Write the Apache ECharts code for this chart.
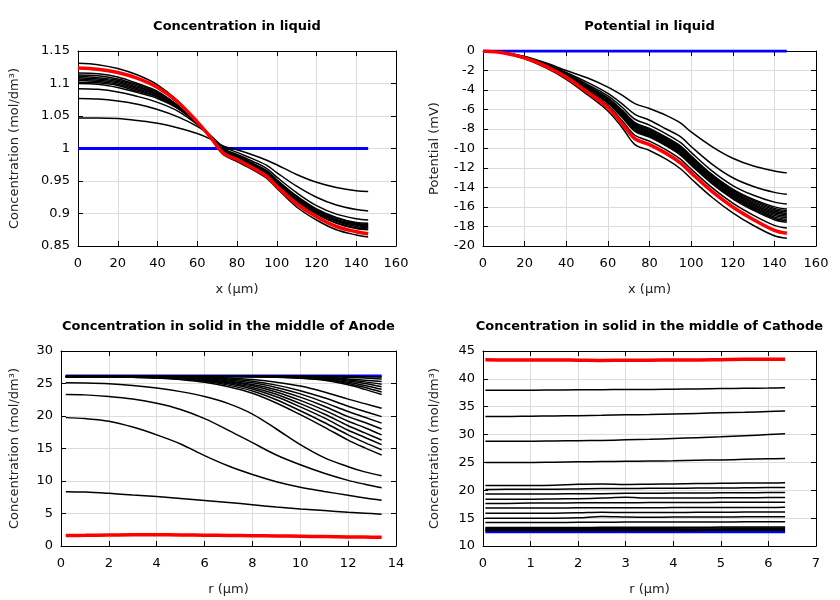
<!DOCTYPE html>
<html><head><meta charset="utf-8">
<script src="https://cdn.jsdelivr.net/npm/echarts@6/dist/echarts.min.js"></script>
<style>html,body{margin:0;padding:0;background:#fff}#c{width:840px;height:600px}</style>
</head><body><div id="c"></div>
<script>
// ---------- Concentration in liquid ----------
const xLiquid = [0,10,20,30,40,50,60,67,73,80,88,95,100,110,120,130,140,146];
const liqConcInitial = [1,1,1,1,1,1,1,1,1,1,1,1,1,1,1,1,1,1];
const liqConcBlack = [
  [1.047,1.047,1.046,1.043,1.039,1.032,1.023,1.014,1.004,0.998,0.990,0.982,0.975,0.960,0.948,0.940,0.935,0.934],
  [1.077,1.076,1.073,1.068,1.060,1.049,1.034,1.019,1.003,0.994,0.984,0.974,0.963,0.942,0.925,0.913,0.906,0.904],
  [1.092,1.091,1.087,1.080,1.071,1.058,1.037,1.018,1.000,0.991,0.980,0.969,0.956,0.932,0.912,0.899,0.892,0.890],
  [1.100,1.099,1.094,1.086,1.077,1.062,1.039,1.018,0.998,0.989,0.977,0.966,0.952,0.927,0.907,0.894,0.886,0.885],
  [1.102,1.101,1.097,1.088,1.079,1.062,1.039,1.018,0.998,0.989,0.977,0.965,0.951,0.926,0.906,0.893,0.885,0.883],
  [1.105,1.103,1.099,1.090,1.080,1.063,1.039,1.018,0.997,0.988,0.976,0.964,0.950,0.925,0.905,0.891,0.884,0.882],
  [1.107,1.105,1.101,1.092,1.082,1.064,1.039,1.017,0.997,0.987,0.975,0.963,0.949,0.924,0.904,0.890,0.883,0.880],
  [1.109,1.107,1.103,1.094,1.083,1.065,1.039,1.017,0.996,0.987,0.975,0.963,0.949,0.923,0.903,0.889,0.882,0.879],
  [1.111,1.109,1.105,1.096,1.084,1.065,1.039,1.017,0.996,0.986,0.974,0.962,0.948,0.922,0.902,0.888,0.880,0.878],
  [1.113,1.112,1.107,1.098,1.086,1.066,1.039,1.017,0.996,0.986,0.973,0.961,0.946,0.920,0.900,0.886,0.878,0.876],
  [1.116,1.115,1.110,1.100,1.088,1.067,1.040,1.017,0.995,0.985,0.972,0.960,0.945,0.919,0.899,0.885,0.877,0.875],
  [1.131,1.129,1.123,1.113,1.098,1.074,1.041,1.015,0.991,0.980,0.967,0.954,0.939,0.910,0.890,0.875,0.867,0.864]
];
const liqConcFinal = [1.124,1.122,1.117,1.108,1.094,1.072,1.041,1.016,0.993,0.983,0.970,0.957,0.942,0.915,0.895,0.880,0.872,0.869];

// ---------- Potential in liquid ----------
const potInitial = [0,0,0,0,0,0,0,0,0,0,0,0,0,0,0,0,0,0];
const potBlack = [
  [0,-0.15,-0.55,-1.2,-2.0,-2.75,-3.7,-4.55,-5.4,-5.9,-6.6,-7.4,-8.3,-9.8,-11.0,-11.8,-12.3,-12.5],
  [0,-0.17,-0.6,-1.3,-2.2,-3.2,-4.35,-5.45,-6.5,-7.1,-8.0,-8.8,-9.8,-11.6,-13.0,-13.9,-14.5,-14.7],
  [0,-0.18,-0.63,-1.35,-2.3,-3.4,-4.6,-5.8,-7.0,-7.6,-8.5,-9.4,-10.4,-12.3,-13.8,-14.8,-15.5,-15.7],
  [0,-0.18,-0.64,-1.38,-2.37,-3.54,-4.8,-6.09,-7.34,-7.94,-8.84,-9.76,-10.76,-12.66,-14.17,-15.23,-15.99,-16.21],
  [0,-0.18,-0.65,-1.39,-2.39,-3.58,-4.86,-6.17,-7.44,-8.04,-8.94,-9.86,-10.86,-12.76,-14.28,-15.35,-16.14,-16.36],
  [0,-0.19,-0.65,-1.4,-2.41,-3.62,-4.92,-6.26,-7.54,-8.14,-9.04,-9.97,-10.97,-12.87,-14.39,-15.48,-16.28,-16.51],
  [0,-0.19,-0.65,-1.41,-2.43,-3.66,-4.98,-6.34,-7.64,-8.24,-9.14,-10.07,-11.07,-12.97,-14.5,-15.6,-16.43,-16.66],
  [0,-0.19,-0.66,-1.42,-2.45,-3.7,-5.04,-6.43,-7.74,-8.34,-9.24,-10.18,-11.18,-13.08,-14.61,-15.73,-16.57,-16.81],
  [0,-0.19,-0.66,-1.43,-2.47,-3.74,-5.1,-6.51,-7.84,-8.44,-9.34,-10.28,-11.28,-13.18,-14.72,-15.85,-16.72,-16.96],
  [0,-0.19,-0.66,-1.44,-2.49,-3.78,-5.16,-6.6,-7.94,-8.54,-9.44,-10.39,-11.39,-13.29,-14.83,-15.98,-16.86,-17.11],
  [0,-0.19,-0.67,-1.45,-2.51,-3.82,-5.22,-6.68,-8.04,-8.64,-9.54,-10.49,-11.49,-13.39,-14.94,-16.1,-17.01,-17.26],
  [0,-0.19,-0.67,-1.46,-2.53,-3.86,-5.28,-6.77,-8.14,-8.74,-9.64,-10.6,-11.6,-13.5,-15.05,-16.23,-17.15,-17.41],
  [0,-0.19,-0.67,-1.47,-2.55,-3.9,-5.34,-6.85,-8.24,-8.84,-9.74,-10.7,-11.7,-13.6,-15.16,-16.35,-17.3,-17.56],
  [0,-0.2,-0.69,-1.51,-2.63,-4.06,-5.58,-7.19,-8.64,-9.24,-10.14,-11.12,-12.12,-14.02,-15.6,-16.85,-17.88,-18.16],
  [0,-0.22,-0.8,-1.7,-2.9,-4.45,-6.15,-7.9,-9.6,-10.2,-11.1,-12.1,-13.1,-15.0,-16.6,-17.9,-18.95,-19.2]
];
const potFinal = [0,-0.2,-0.7,-1.55,-2.7,-4.2,-5.8,-7.5,-9.0,-9.6,-10.5,-11.5,-12.5,-14.4,-16.0,-17.3,-18.4,-18.7];

// ---------- Concentration in solid, Anode ----------
const rAnode = [0.2,1,2,3,4,5,6,7,8,9,10,11,12,12.7,13.4];
const anodeInitial = [26.15,26.15,26.15,26.15,26.15,26.15,26.15,26.15,26.15,26.15,26.15,26.15,26.15,26.15,26.15];
const anodeBlack = [
  [8.36,8.3,8.1,7.85,7.6,7.3,7.0,6.7,6.35,6.0,5.7,5.45,5.2,5.05,4.9],
  [19.75,19.6,19.2,18.3,17.1,15.7,13.9,12.3,11.0,9.9,9.05,8.4,7.8,7.4,7.05],
  [23.3,23.25,23.0,22.6,21.95,21.0,19.6,17.8,15.9,14.0,12.5,11.2,10.1,9.5,8.95],
  [25.1,25.08,24.97,24.7,24.3,23.75,23.0,21.9,20.3,18.0,15.6,13.6,12.2,11.4,10.8],
  [26.05,26.05,26.0,25.95,25.85,25.6,25.2,24.5,23.5,22.0,20.2,18.3,16.3,15.1,14.0],
  [26.05,26.05,26.0,25.95,25.9,25.7,25.35,24.75,23.85,22.5,20.8,19.0,17.1,15.9,14.8],
  [26.05,26.05,26.0,26.0,25.9,25.75,25.45,24.95,24.15,22.95,21.4,19.7,17.8,16.7,15.6],
  [26.05,26.05,26.05,26.0,25.95,25.8,25.55,25.1,24.4,23.35,21.9,20.3,18.5,17.4,16.3],
  [26.05,26.05,26.05,26.0,25.95,25.85,25.65,25.25,24.65,23.7,22.4,20.9,19.2,18.2,17.1],
  [26.05,26.05,26.05,26.05,26.0,25.95,25.75,25.4,24.85,24.05,22.9,21.5,19.9,19.0,18.0],
  [26.05,26.05,26.05,26.05,26.0,25.95,25.85,25.55,25.1,24.4,23.4,22.1,20.7,19.8,18.9],
  [26.05,26.05,26.05,26.05,26.05,26.0,25.95,25.7,25.35,24.75,23.9,22.8,21.5,20.7,19.9],
  [26.05,26.05,26.05,26.05,26.05,26.05,26.0,25.85,25.6,25.2,24.6,23.7,22.6,21.9,21.2],
  [26.1,26.1,26.1,26.1,26.1,26.1,26.05,26.05,26.0,25.95,25.8,25.5,24.8,24.1,23.3],
  [26.1,26.1,26.1,26.1,26.1,26.1,26.1,26.1,26.05,26.0,25.85,25.6,25.0,24.4,23.7],
  [26.1,26.1,26.1,26.1,26.1,26.1,26.1,26.1,26.1,26.05,25.9,25.7,25.2,24.7,24.1],
  [26.1,26.1,26.1,26.1,26.1,26.1,26.1,26.1,26.1,26.1,26.0,25.8,25.4,25.0,24.5],
  [26.1,26.1,26.1,26.1,26.1,26.1,26.1,26.1,26.1,26.1,26.1,25.9,25.55,25.25,24.9],
  [26.1,26.1,26.1,26.1,26.1,26.1,26.1,26.1,26.1,26.1,26.1,25.95,25.7,25.5,25.3],
  [26.1,26.1,26.1,26.1,26.1,26.1,26.1,26.1,26.1,26.1,26.1,26.1,25.95,25.85,25.7],
  [26.1,26.1,26.1,26.1,26.1,26.1,26.1,26.1,26.1,26.1,26.1,26.1,26.1,26.05,26.0]
];
const anodeFinal = [1.62,1.64,1.68,1.72,1.72,1.7,1.66,1.62,1.58,1.54,1.5,1.45,1.4,1.37,1.34];

// ---------- Concentration in solid, Cathode ----------
const rCathode = [0.05,0.5,1,1.5,2,2.5,3,3.5,4,4.5,5,5.5,6,6.35];
const cathodeInitial = [12.55,12.55,12.55,12.55,12.55,12.55,12.55,12.55,12.55,12.55,12.55,12.55,12.55,12.55];
const cathodeBlack = [
  [37.95,37.95,37.95,38.0,38.05,38.05,38.1,38.1,38.15,38.2,38.25,38.3,38.35,38.4],
  [33.25,33.25,33.3,33.35,33.4,33.45,33.55,33.6,33.7,33.8,33.9,34.0,34.15,34.25],
  [28.8,28.8,28.8,28.85,28.9,28.95,29.05,29.15,29.3,29.45,29.6,29.8,30.0,30.15],
  [25.0,25.0,25.0,25.05,25.1,25.15,25.2,25.25,25.3,25.4,25.45,25.55,25.65,25.7],
  [20.85,20.85,20.85,20.9,21.1,21.15,21.05,21.1,21.15,21.2,21.25,21.3,21.3,21.35],
  [20.15,20.2,20.2,20.2,20.25,20.3,20.3,20.35,20.35,20.4,20.4,20.45,20.5,20.5],
  [19.35,19.35,19.35,19.35,19.4,19.4,19.45,19.45,19.5,19.5,19.55,19.55,19.6,19.6],
  [18.4,18.4,18.4,18.45,18.5,18.6,18.75,18.6,18.6,18.6,18.65,18.65,18.7,18.7],
  [17.65,17.65,17.7,17.7,17.75,17.75,17.75,17.8,17.8,17.8,17.85,17.85,17.85,17.85],
  [16.8,16.8,16.8,16.8,16.85,16.85,16.85,16.85,16.9,16.9,16.9,16.9,16.9,16.95],
  [15.9,15.9,15.9,15.9,15.95,16.05,16.0,16.0,16.0,16.05,16.05,16.1,16.1,16.1],
  [15.0,15.0,15.0,15.0,15.05,15.3,15.2,15.15,15.2,15.2,15.2,15.25,15.25,15.25],
  [14.2,14.2,14.2,14.2,14.25,14.25,14.3,14.3,14.3,14.3,14.3,14.35,14.35,14.35],
  [13.3,13.3,13.3,13.3,13.3,13.35,13.35,13.35,13.35,13.35,13.4,13.4,13.4,13.4],
  [13.15,13.15,13.15,13.15,13.15,13.2,13.2,13.2,13.2,13.25,13.25,13.25,13.25,13.25],
  [13.0,13.0,13.0,13.0,13.0,13.0,13.05,13.05,13.05,13.05,13.05,13.1,13.1,13.1],
  [12.85,12.85,12.85,12.85,12.85,12.85,12.9,12.9,12.9,12.9,12.9,12.9,12.95,12.95],
  [12.72,12.72,12.72,12.72,12.72,12.72,12.75,12.75,12.75,12.75,12.77,12.77,12.77,12.8]
];
const cathodeFinal = [43.45,43.4,43.4,43.4,43.35,43.3,43.35,43.35,43.4,43.4,43.45,43.5,43.5,43.5];

// ---------- Tick settings / texts ----------
const titles = ['Concentration in liquid','Potential in liquid','Concentration in solid in the middle of Anode','Concentration in solid in the middle of Cathode'];
const xNames = ['x (µm)','x (µm)','r (µm)','r (µm)'];
const yNames = ['Concentration (mol/dm³)','Potential (mV)','Concentration (mol/dm³)','Concentration (mol/dm³)'];
const xTicks = [[0,160,20],[0,160,20],[0,14,2],[0,7,1]];
const yTicks = [[0.85,1.15,0.05],[-20,0,2],[0,30,5],[10,45,5]];

const FONT = 'DejaVu Sans';
const grids = [
  {left:78, top:51, width:318, height:195},
  {left:483, top:51, width:333, height:195},
  {left:61, top:351, width:335, height:195},
  {left:483, top:351, width:333, height:195}
];
const yNameGaps = [57, 42, 40, 42];

const xAxes = [], yAxes = [], series = [], titleOpts = [];
grids.forEach((g, i) => {
  titleOpts.push({text: titles[i], left: g.left + g.width/2, top: g.top - 31, textAlign: 'center', padding: 0,
    textStyle: {fontFamily: FONT, fontSize: 13, fontWeight: 'bold', color: '#000'}});
  const common = {type:'value', gridIndex:i,
    axisLine:{show:true, onZero:false, lineStyle:{color:'#000', width:1}},
    axisTick:{show:true, inside:true, length:5, lineStyle:{color:'#000'}}};
  xAxes.push(Object.assign({}, common, {position:'bottom', min:xTicks[i][0], max:xTicks[i][1], interval:xTicks[i][2],
    axisLabel:{fontFamily:FONT, fontSize:13, color:'#000', margin:11},
    splitLine:{show:true, lineStyle:{color:'#dcdcdc', width:1}},
    name:xNames[i], nameLocation:'middle', nameGap:37, nameTextStyle:{fontFamily:FONT, fontSize:13, color:'#222'}}));
  xAxes.push(Object.assign({}, common, {position:'top', min:xTicks[i][0], max:xTicks[i][1], interval:xTicks[i][2],
    axisLabel:{show:false}, splitLine:{show:false}}));
  yAxes.push(Object.assign({}, common, {position:'left', min:yTicks[i][0], max:yTicks[i][1], interval:yTicks[i][2],
    axisLabel:{fontFamily:FONT, fontSize:13, color:'#000', margin:8},
    splitLine:{show:true, lineStyle:{color:'#dcdcdc', width:1}},
    name:yNames[i], nameLocation:'middle', nameGap:yNameGaps[i], nameTextStyle:{fontFamily:FONT, fontSize:13, color:'#222'}}));
  yAxes.push(Object.assign({}, common, {position:'right', min:yTicks[i][0], max:yTicks[i][1], interval:yTicks[i][2],
    axisLabel:{show:false}, splitLine:{show:false}}));
});

function line(gi, xs, ys, color, width) {
  return {type:'line', xAxisIndex: gi*2, yAxisIndex: gi*2, data: xs.map((x, k) => [x, ys[k]]),
    symbol:'none', showSymbol:false, smooth:0.35, silent:true,
    lineStyle:{color:color, width:width}, itemStyle:{color:color}};
}
const panels = [
  [xLiquid, liqConcInitial, liqConcBlack, liqConcFinal],
  [xLiquid, potInitial, potBlack, potFinal],
  [rAnode, anodeInitial, anodeBlack, anodeFinal],
  [rCathode, cathodeInitial, cathodeBlack, cathodeFinal]
];
panels.forEach((p, gi) => {
  series.push(line(gi, p[0], p[1], '#0000ff', 3));
  p[2].forEach(ys => series.push(line(gi, p[0], ys, '#000000', 1.5)));
  series.push(line(gi, p[0], p[3], '#ff0000', 3.5));
});

const chart = echarts.init(document.getElementById('c'), null, {renderer:'canvas'});
chart.setOption({
  animation:false,
  backgroundColor:'#fff',
  title: titleOpts,
  grid: grids.map(g => Object.assign({containLabel:false, show:false}, g)),
  xAxis: xAxes,
  yAxis: yAxes,
  series: series
});
</script></body></html>
